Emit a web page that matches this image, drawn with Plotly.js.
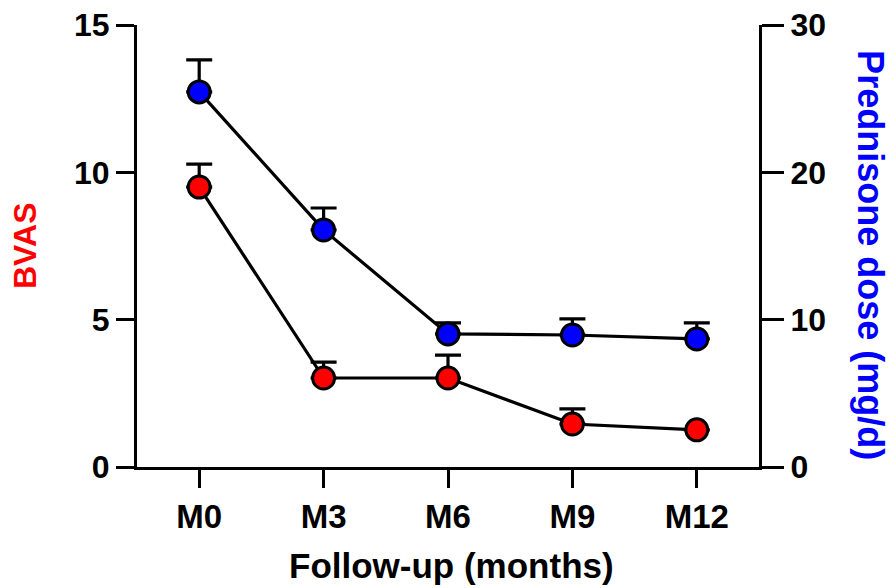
<!DOCTYPE html>
<html>
<head>
<meta charset="utf-8">
<script src="https://cdn.plot.ly/plotly-3.0.1.min.js"></script>
<style>html,body{margin:0;padding:0;background:#fff;}#chart{width:896px;height:588px;}</style>
</head>
<body>
<div id="chart"></div>
<script>
const categories = ["M0", "M3", "M6", "M9", "M12"];
const bvasMean = [9.5, 3.02, 3.02, 1.46, 1.26];
const bvasSem = [0.78, 0.54, 0.78, 0.51, 0];
const prednisoneMean = [25.46, 16.09, 9.03, 8.96, 8.69];
const prednisoneSem = [2.17, 1.49, 0.75, 1.09, 1.09];
const zeros = [0, 0, 0, 0, 0];

const FONT = "Liberation Sans, Arial, Helvetica, sans-serif";

const traces = [
  {
    x: categories, y: prednisoneMean, yaxis: "y2", type: "scatter", mode: "lines+markers",
    line: {color: "#000", width: 3.2},
    marker: {color: "#0000FF", size: 22, line: {color: "#000", width: 3}},
    error_y: {type: "data", symmetric: false, array: prednisoneSem, arrayminus: zeros,
              color: "#000", thickness: 3.2, width: 13},
    cliponaxis: false, hoverinfo: "skip"
  },
  {
    x: categories, y: bvasMean, yaxis: "y", type: "scatter", mode: "lines+markers",
    line: {color: "#000", width: 3.2},
    marker: {color: "#FF0000", size: 22, line: {color: "#000", width: 3}},
    error_y: {type: "data", symmetric: false, array: bvasSem, arrayminus: zeros,
              color: "#000", thickness: 3.2, width: 13},
    cliponaxis: false, hoverinfo: "skip"
  }
];

const layout = {
  width: 896, height: 588,
  margin: {l: 137, r: 137, t: 25, b: 121},
  paper_bgcolor: "#fff", plot_bgcolor: "#fff",
  showlegend: false,
  font: {family: FONT, color: "#000", size: 30, weight: "bold"},
  xaxis: {
    type: "category", range: [-0.5, 4.5],
    showline: true, linecolor: "#000", linewidth: 3,
    ticks: "outside", ticklen: 18, tickwidth: 3, tickcolor: "#000",
    showgrid: false, zeroline: false,
    tickfont: {family: FONT, size: 33, color: "#000", weight: "bold"}
  },
  yaxis: {
    range: [0, 15], tickvals: [0, 5, 10, 15],
    showline: true, linecolor: "#000", linewidth: 3,
    ticks: "outside", ticklen: 18, tickwidth: 3, tickcolor: "#000",
    showgrid: false, zeroline: false,
    tickfont: {family: FONT, size: 32, color: "#000", weight: "bold"}
  },
  yaxis2: {
    range: [0, 30], tickvals: [0, 10, 20, 30],
    overlaying: "y", side: "right",
    showline: true, linecolor: "#000", linewidth: 3,
    ticks: "outside", ticklen: 22, tickwidth: 3, tickcolor: "#000",
    showgrid: false, zeroline: false,
    tickfont: {family: FONT, size: 32, color: "#000", weight: "bold"}
  },
  annotations: [
    {text: "Follow-up (months)", xref: "paper", yref: "paper", x: 0.505, y: -0.222,
     xanchor: "center", yanchor: "middle", showarrow: false,
     font: {family: FONT, size: 35, color: "#000", weight: "bold"}},
    {text: "BVAS", xref: "paper", yref: "paper", x: -0.18, y: 0.5,
     xanchor: "center", yanchor: "middle", textangle: -90, showarrow: false,
     font: {family: FONT, size: 32, color: "#FF0000", weight: "bold"}},
    {text: "Prednisone dose (mg/d)", xref: "paper", yref: "paper", x: 1.178, y: 0.48,
     xanchor: "center", yanchor: "middle", textangle: 90, showarrow: false,
     font: {family: FONT, size: 36, color: "#0000FF", weight: "bold"}}
  ]
};

Plotly.newPlot("chart", traces, layout, {displayModeBar: false, staticPlot: true});
</script>
</body>
</html>
